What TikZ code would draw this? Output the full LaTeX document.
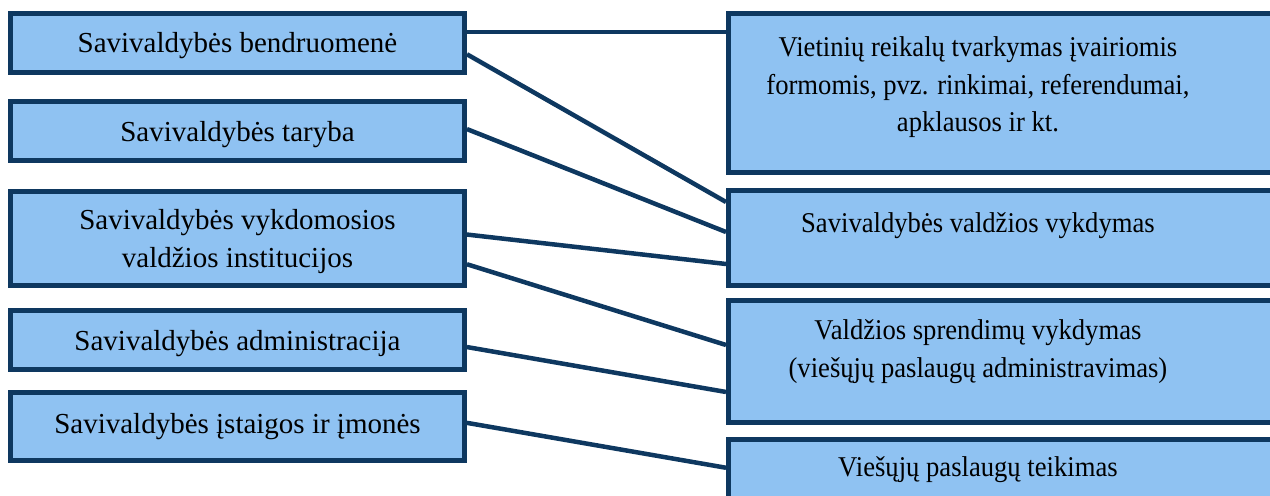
\documentclass[tikz,border=0pt]{standalone}
\usepackage{fontspec}
\setmainfont{Liberation Serif}
\newfontfamily\taskfont{Liberation Serif}[FakeStretch=0.93]
\usepackage{tikz}
\usetikzlibrary{calc}
\definecolor{boxfill}{RGB}{143,194,242}
\definecolor{boxline}{RGB}{14,56,96}
\tikzstyle{orgbox} = [draw=boxline, fill=boxfill, line width=0.1cm,
    rectangle, minimum width=9.08cm, align=center, text depth=0pt,
    font=\fontsize{16.5}{21.5}\selectfont]
\tikzstyle{taskbox} = [draw=boxline, fill=boxfill, line width=0.1cm,
    rectangle, inner sep=0pt, anchor=north west,
    font=\taskfont\fontsize{16.3}{21.3}\selectfont]
\tikzstyle{conn} = [draw=boxline, line width=0.09cm]
\newcommand{\tasktext}[3]{\parbox[t][#1][t]{9.98cm}{\centering\vspace*{#2}#3}\hspace*{1.5cm}}

\begin{document}
\begin{tikzpicture}[x=0.02cm, y=-0.02cm]
                \useasboundingbox (0,0) rectangle (1270,495);
                % left column
                \node [orgbox, minimum height=1.18cm] (L1) at (237.5,42.75) {Savivaldybės bendruomenė};
                \node [orgbox, minimum height=1.18cm] (L2) at (237.5,131) {Savivaldybės taryba};
                \node [orgbox, minimum height=1.88cm] (L3) at (237.5,238.5) {Savivaldybės vykdomosios\\valdžios institucijos};
                \node [orgbox, minimum height=1.18cm] (L4) at (237.5,340) {Savivaldybės administracija};
                \node [orgbox, minimum height=1.36cm, text depth=3.6pt] (L5) at (237.5,426.5) {Savivaldybės įstaigos ir įmonės};
                % right column
                \node [taskbox] (R1) at (726,11) {\tasktext{3.18cm}{0.47cm}{Vietinių reikalų tvarkymas įvairiomis\\formomis, pvz. rinkimai, referendumai,\\apklausos ir kt.}};
                \node [taskbox] (R2) at (726,188) {\tasktext{1.9cm}{0.45cm}{Savivaldybės valdžios vykdymas}};
                \node [taskbox] (R3) at (726,298) {\tasktext{2.44cm}{0.39cm}{Valdžios sprendimų vykdymas\\(viešųjų paslaugų administravimas)}};
                \node [taskbox] (R4) at (726,437) {\tasktext{1.4cm}{0.35cm}{Viešųjų paslaugų teikimas}};
                % links
                \draw [conn] ($(L1.north east)!0.33!(L1.south east)$) coordinate (c1) -- (c1 -| R1.west);
                \draw [conn] ($(L1.north east)!0.68!(L1.south east)$) -- ($(R2.north west)!0.14!(R2.south west)$);
                \draw [conn] ($(L2.north east)!0.47!(L2.south east)$) -- ($(R2.north west)!0.44!(R2.south west)$);
                \draw [conn] ($(L3.north east)!0.46!(L3.south east)$) -- ($(R2.north west)!0.76!(R2.south west)$);
                \draw [conn] ($(L3.north east)!0.76!(L3.south east)$) -- ($(R3.north west)!0.37!(R3.south west)$);
                \draw [conn] ($(L4.north east)!0.61!(L4.south east)$) -- ($(R3.north west)!0.74!(R3.south west)$);
                \draw [conn] ($(L5.north east)!0.45!(L5.south east)$) -- ($(R4.north west)!0.41!(R4.south west)$);
            \end{tikzpicture}
\end{document}
